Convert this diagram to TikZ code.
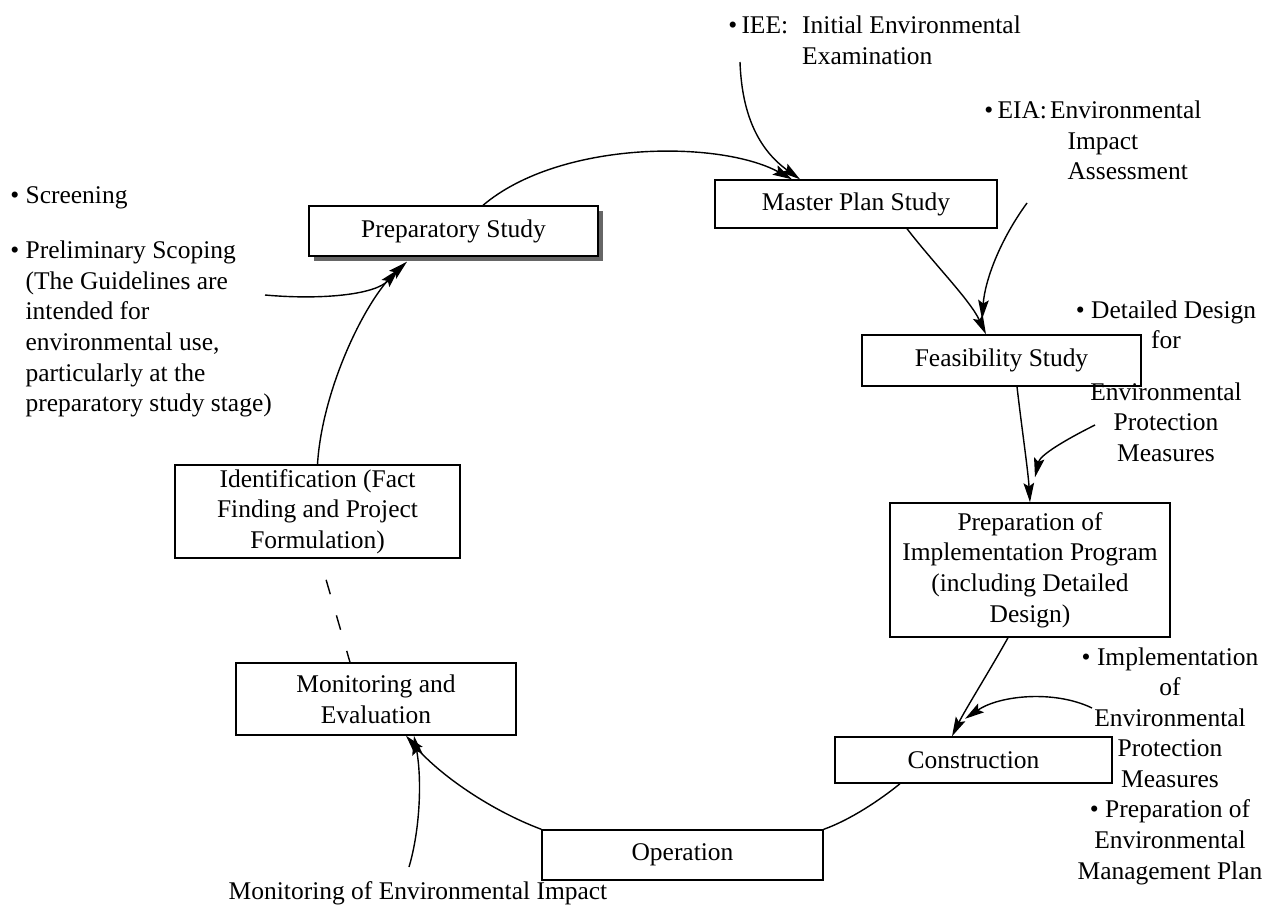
\documentclass[tikz,border=0pt]{standalone}
\usepackage{fontspec}
\setmainfont{Liberation Serif}
\usetikzlibrary{arrows.meta, shadows}

\begin{document}
\begin{tikzpicture}[
    x=0.02cm, y=0.02cm,
    every node/.style={font=\fontsize{14.5}{17.4}\selectfont},
    stage/.style={rectangle, draw, line width=0.8pt, fill=white, align=center,
                  minimum width=5.6cm, minimum height=1cm, inner sep=2pt},
    note/.style={inner sep=0pt, align=center},
    arrow/.style={-{Stealth[length=11pt, width=6pt, inset=2pt]}, line width=0.8pt},
    link/.style={line width=0.8pt}
]
\useasboundingbox (0,0) rectangle (1268,-910);

% Project cycle
\node[stage, minimum width=5.78cm,
      drop shadow={shadow xshift=0.1cm, shadow yshift=-0.1cm, fill=black!60, opacity=1}]
      (prep) at (453.5,-231) {Preparatory Study};
\node[stage, minimum width=5.64cm, minimum height=0.96cm] (master) at (856,-204) {Master Plan Study};
\node[stage, minimum width=5.58cm, minimum height=1.02cm] (feas) at (1001.5,-360.5) {Feasibility Study};
\node[stage, minimum height=2.68cm] (impl) at (1030,-570) {Preparation of\\Implementation Program\\(including Detailed\\Design)};
\node[stage, minimum width=5.54cm, minimum height=0.92cm] (constr) at (973.5,-760) {Construction};
\node[stage, minimum width=5.62cm] (oper) at (682.5,-855) {Operation};
\node[stage, minimum height=1.44cm] (monit) at (376,-699) {Monitoring and\\Evaluation};
\node[stage, minimum width=5.7cm, minimum height=1.86cm] (ident) at (317.5,-511.5) {Identification (Fact\\Finding and Project\\Formulation)};

% Environmental considerations
\node[note, anchor=north west] (iee) at (728,-12)
  {\begin{tabular}{@{}l@{\hspace{0.28cm}}l}•\,IEE: & Initial Environmental\\ & Examination\end{tabular}};
\node[note, anchor=north west] (eia) at (984,-97)
  {\begin{tabular}{@{}l@{\hspace{0.06cm}}l}•\,EIA: & Environmental\\ & \hspace{0.35cm}Impact\\ & \hspace{0.35cm}Assessment\end{tabular}};
\node[note, anchor=north] (dd) at (1166,-300) {•\ Detailed Design\\for};
\node[note, anchor=north] (ddmeas) at (1166,-382) {Environmental\\Protection\\Measures};
\node[note, anchor=north] (implnote) at (1170,-647)
  {•\ Implementation\\of\\Environmental\\Protection\\Measures\\•\ Preparation of\\Environmental\\Management Plan};
\node[note] (mei) at (418,-893) {Monitoring of Environmental Impact};
\node[note, anchor=north west] (scr) at (10,-182)
  {\begin{tabular}{@{}l@{\ }l}•&Screening\end{tabular}};
\node[note, anchor=north west] (scoping) at (10,-237)
  {\begin{tabular}{@{}l@{\ }l}•&Preliminary Scoping\\ &(The Guidelines are\\ &intended for\\
   &environmental use,\\ &particularly at the\\ &preparatory study stage)\end{tabular}};

\coordinate (ieestart) at (740,-62);
\coordinate (eiastart) at (1027,-203);
\coordinate (ddstart) at (1095,-425);
\coordinate (implstart) at (1092,-708);
\coordinate (meistart) at (409,-867);
\coordinate (scopstart) at (265,-295);

% Cycle connectors
\draw[arrow] ([xshift=0.59cm]prep.north) .. controls (560,-140) and (720,-140) .. ([xshift=-1.28cm]master.north);
\draw[arrow] ([xshift=1.02cm]master.south) .. controls (935,-265) and (970,-300) .. ([xshift=-0.31cm]feas.north);
\draw[arrow] ([xshift=0.31cm]feas.south) .. controls (1022,-430) and (1028,-470) .. (impl.north);
\draw[arrow] ([xshift=-0.44cm]impl.south) .. controls (990,-670) and (965,-710) .. ([xshift=-0.43cm]constr.north);
\draw[link] ([xshift=-1.47cm]constr.south) .. controls (880,-800) and (850,-820) .. (oper.north east);
\draw[arrow] (oper.north west) .. controls (490,-810) and (440,-775) .. ([xshift=0.6cm]monit.south);
\draw[link, dash pattern=on 0.3cm off 0.44cm, dash phase=0.3cm] ([xshift=0.05cm]ident.south) -- ([xshift=-0.52cm]monit.north);
\draw[arrow] (ident.north) .. controls (322,-390) and (365,-300) .. ([xshift=-0.93cm, yshift=-0.1cm]prep.south);

% Annotation arrows
\draw[arrow] (ieestart) .. controls (742,-120) and (762,-152) .. ([xshift=-1.12cm]master.north);
\draw[arrow] (eiastart) .. controls (1000,-240) and (985,-280) .. ([xshift=-0.39cm, yshift=0.3cm]feas.north);
\draw[arrow] (ddstart) .. controls (1065,-440) and (1040,-455) .. ([xshift=0.1cm, yshift=0.5cm]impl.north);
\draw[arrow] (implstart) .. controls (1055,-690) and (1000,-695) .. ([xshift=-0.17cm, yshift=0.35cm]constr.north);
\draw[arrow] (meistart) .. controls (420,-830) and (422,-780) .. ([xshift=0.76cm]monit.south);
\draw[arrow] (scopstart) .. controls (320,-300) and (375,-295) .. ([xshift=-1.1cm, yshift=-0.25cm]prep.south);

\end{tikzpicture}
\end{document}
